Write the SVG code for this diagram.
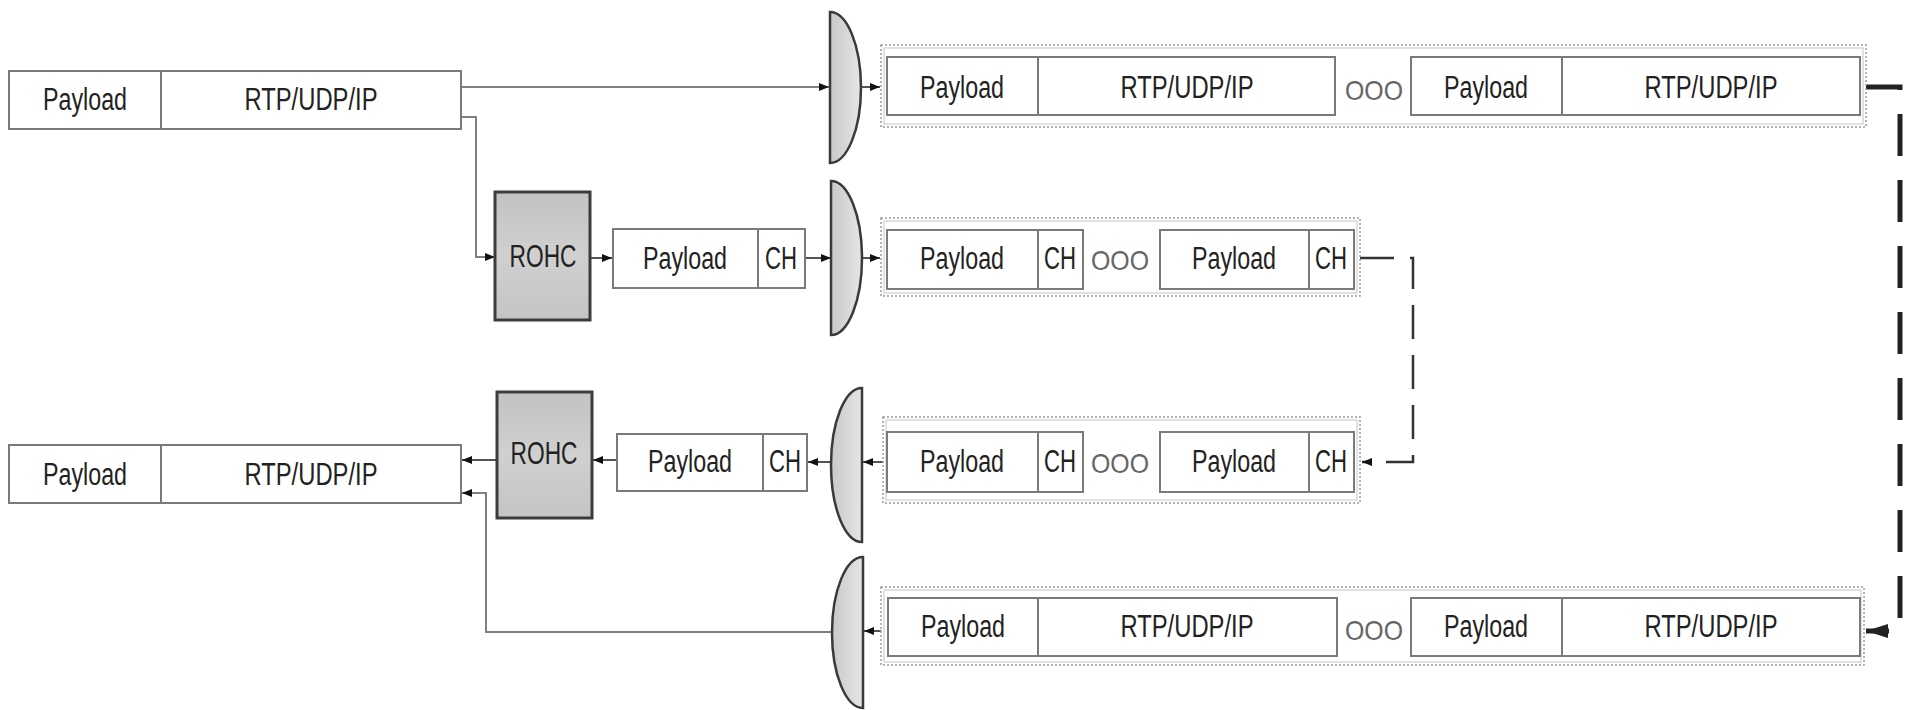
<svg xmlns="http://www.w3.org/2000/svg" width="1911" height="710" viewBox="0 0 1911 710">
<defs>
<style>
.t{font-family:"Liberation Sans Narrow","Liberation Sans",Arial,sans-serif;font-size:31px;fill:#222;text-anchor:middle}
.o{font-family:"Liberation Sans Narrow","Liberation Sans",Arial,sans-serif;font-size:28px;fill:#666;text-anchor:middle}
.r{font-family:"Liberation Sans Narrow","Liberation Sans",Arial,sans-serif;font-size:32px;fill:#222;text-anchor:middle}
.pk{fill:#fff;stroke:#7a7a7a;stroke-width:2}
.dv{stroke:#7a7a7a;stroke-width:2}
.co{fill:none;stroke:#9a9a9a;stroke-width:1.5;stroke-dasharray:2 2}
.ci{fill:none;stroke:#c4c4c4;stroke-width:1}
.rohc{fill:url(#gr);stroke:#3c3c3c;stroke-width:3}
.arc{fill:url(#ga);stroke:#3a3a3a;stroke-width:2.5}
.ln{fill:none;stroke:#808080;stroke-width:2}
.lnd{fill:none;stroke:#555;stroke-width:2}
</style>
<linearGradient id="gr" x1="0" y1="0" x2="0" y2="1">
<stop offset="0" stop-color="#c2c2c2"/><stop offset="0.5" stop-color="#d0d0d0"/><stop offset="1" stop-color="#c4c4c4"/>
</linearGradient>
<linearGradient id="ga" x1="0" y1="0" x2="1" y2="0">
<stop offset="0" stop-color="#c8c8c8"/><stop offset="1" stop-color="#e6e6e6"/>
</linearGradient>
<marker id="ah" markerUnits="userSpaceOnUse" markerWidth="10" markerHeight="8" refX="10" refY="4" orient="auto">
<path d="M0,0 L10,4 L0,8 z" fill="#111"/>
</marker>
<marker id="ahb" markerUnits="userSpaceOnUse" markerWidth="22" markerHeight="14" refX="22" refY="7" orient="auto">
<path d="M0,0 L22,7 L0,14 z" fill="#222"/>
</marker>
</defs>
<rect width="1911" height="710" fill="#fff"/>

<g id="connectors">
<path class="ln" d="M461,87 H829" marker-end="url(#ah)"/>
<path class="ln" d="M461,117 H476 V257 H495" marker-end="url(#ah)"/>
<path class="lnd" d="M590,258 H612" marker-end="url(#ah)"/>
<path class="lnd" d="M805,258 H831" marker-end="url(#ah)"/>
<path class="lnd" d="M861,87 H880" marker-end="url(#ah)"/>
<path class="lnd" d="M862,258 H880" marker-end="url(#ah)"/>
<path d="M1866,87 H1900 V631 H1866" fill="none" stroke="#222" stroke-width="5" stroke-dasharray="42 24" stroke-dashoffset="5" marker-end="url(#ahb)"/>
<path d="M1360,258 H1413 V462 H1362" fill="none" stroke="#333" stroke-width="2.5" stroke-dasharray="34 16" marker-end="url(#ah)"/>
<path class="lnd" d="M883,462 H863" marker-end="url(#ah)"/>
<path class="lnd" d="M830,462 H808" marker-end="url(#ah)"/>
<path class="lnd" d="M617,460 H593" marker-end="url(#ah)"/>
<path class="lnd" d="M497,460 H462" marker-end="url(#ah)"/>
<path class="lnd" d="M881,631 H864" marker-end="url(#ah)"/>
<path class="ln" d="M832,632 H486 V493 H462" marker-end="url(#ah)"/>
</g>

<g id="src-packet">
<rect class="pk" x="9" y="71" width="452" height="58"/>
<line class="dv" x1="161" y1="71" x2="161" y2="129"/>
<text class="t" x="85" y="110" textLength="84" lengthAdjust="spacingAndGlyphs">Payload</text>
<text class="t" x="311" y="110" textLength="133" lengthAdjust="spacingAndGlyphs">RTP/UDP/IP</text>
</g>

<g id="rohc-compressor">
<rect class="rohc" x="495" y="192" width="95" height="128"/>
<text class="r" x="543" y="267" textLength="67" lengthAdjust="spacingAndGlyphs">ROHC</text>
</g>

<g id="compressed-packet">
<rect class="pk" x="613" y="229" width="192" height="59"/>
<line class="dv" x1="758" y1="229" x2="758" y2="288"/>
<text class="t" x="685" y="269" textLength="84" lengthAdjust="spacingAndGlyphs">Payload</text>
<text class="t" x="781" y="269" textLength="32" lengthAdjust="spacingAndGlyphs">CH</text>
</g>

<g id="switch-1">
<path class="arc" d="M830,12 A31 75.5 0 0 1 830,163 Z"/>
</g>
<g id="switch-2">
<path class="arc" d="M831,181 A31 77 0 0 1 831,335 Z"/>
</g>
<g id="switch-3">
<path class="arc" d="M862,388 A31 77 0 0 0 862,542 Z"/>
</g>
<g id="switch-4">
<path class="arc" d="M863,557 A31 75.5 0 0 0 863,708 Z"/>
</g>

<g id="stream-uncompressed-tx">
<rect class="co" x="881" y="45" width="985" height="82"/>
<rect class="ci" x="884" y="48" width="979" height="76"/>
<rect class="pk" x="887" y="57" width="448" height="58"/>
<line class="dv" x1="1038" y1="57" x2="1038" y2="115"/>
<text class="t" x="962" y="98" textLength="84" lengthAdjust="spacingAndGlyphs">Payload</text>
<text class="t" x="1187" y="98" textLength="133" lengthAdjust="spacingAndGlyphs">RTP/UDP/IP</text>
<text class="o" x="1374" y="100" textLength="58" lengthAdjust="spacingAndGlyphs">OOO</text>
<rect class="pk" x="1411" y="57" width="449" height="58"/>
<line class="dv" x1="1562" y1="57" x2="1562" y2="115"/>
<text class="t" x="1486" y="98" textLength="84" lengthAdjust="spacingAndGlyphs">Payload</text>
<text class="t" x="1711" y="98" textLength="133" lengthAdjust="spacingAndGlyphs">RTP/UDP/IP</text>
</g>

<g id="stream-compressed-tx">
<rect class="co" x="881" y="218" width="479" height="78"/>
<rect class="ci" x="884" y="221" width="473" height="72"/>
<rect class="pk" x="887" y="230" width="196" height="59"/>
<line class="dv" x1="1038" y1="230" x2="1038" y2="289"/>
<text class="t" x="962" y="269" textLength="84" lengthAdjust="spacingAndGlyphs">Payload</text>
<text class="t" x="1060" y="269" textLength="32" lengthAdjust="spacingAndGlyphs">CH</text>
<text class="o" x="1120" y="270" textLength="58" lengthAdjust="spacingAndGlyphs">OOO</text>
<rect class="pk" x="1160" y="230" width="194" height="59"/>
<line class="dv" x1="1309" y1="230" x2="1309" y2="289"/>
<text class="t" x="1234" y="269" textLength="84" lengthAdjust="spacingAndGlyphs">Payload</text>
<text class="t" x="1331" y="269" textLength="32" lengthAdjust="spacingAndGlyphs">CH</text>
</g>

<g id="stream-compressed-rx">
<rect class="co" x="883" y="417" width="477" height="86"/>
<rect class="ci" x="886" y="420" width="471" height="80"/>
<rect class="pk" x="887" y="432" width="196" height="60"/>
<line class="dv" x1="1038" y1="432" x2="1038" y2="492"/>
<text class="t" x="962" y="472" textLength="84" lengthAdjust="spacingAndGlyphs">Payload</text>
<text class="t" x="1060" y="472" textLength="32" lengthAdjust="spacingAndGlyphs">CH</text>
<text class="o" x="1120" y="473" textLength="58" lengthAdjust="spacingAndGlyphs">OOO</text>
<rect class="pk" x="1160" y="432" width="194" height="60"/>
<line class="dv" x1="1309" y1="432" x2="1309" y2="492"/>
<text class="t" x="1234" y="472" textLength="84" lengthAdjust="spacingAndGlyphs">Payload</text>
<text class="t" x="1331" y="472" textLength="32" lengthAdjust="spacingAndGlyphs">CH</text>
</g>

<g id="stream-uncompressed-rx">
<rect class="co" x="881" y="587" width="983" height="78"/>
<rect class="ci" x="884" y="590" width="977" height="72"/>
<rect class="pk" x="888" y="598" width="449" height="58"/>
<line class="dv" x1="1038" y1="598" x2="1038" y2="656"/>
<text class="t" x="963" y="637" textLength="84" lengthAdjust="spacingAndGlyphs">Payload</text>
<text class="t" x="1187" y="637" textLength="133" lengthAdjust="spacingAndGlyphs">RTP/UDP/IP</text>
<text class="o" x="1374" y="640" textLength="58" lengthAdjust="spacingAndGlyphs">OOO</text>
<rect class="pk" x="1411" y="598" width="449" height="58"/>
<line class="dv" x1="1562" y1="598" x2="1562" y2="656"/>
<text class="t" x="1486" y="637" textLength="84" lengthAdjust="spacingAndGlyphs">Payload</text>
<text class="t" x="1711" y="637" textLength="133" lengthAdjust="spacingAndGlyphs">RTP/UDP/IP</text>
</g>

<g id="rx-compressed-packet">
<rect class="pk" x="617" y="434" width="190" height="57"/>
<line class="dv" x1="763" y1="434" x2="763" y2="491"/>
<text class="t" x="690" y="472" textLength="84" lengthAdjust="spacingAndGlyphs">Payload</text>
<text class="t" x="785" y="472" textLength="32" lengthAdjust="spacingAndGlyphs">CH</text>
</g>

<g id="rohc-decompressor">
<rect class="rohc" x="497" y="392" width="95" height="126"/>
<text class="r" x="544" y="464" textLength="67" lengthAdjust="spacingAndGlyphs">ROHC</text>
</g>

<g id="dst-packet">
<rect class="pk" x="9" y="445" width="452" height="58"/>
<line class="dv" x1="161" y1="445" x2="161" y2="503"/>
<text class="t" x="85" y="485" textLength="84" lengthAdjust="spacingAndGlyphs">Payload</text>
<text class="t" x="311" y="485" textLength="133" lengthAdjust="spacingAndGlyphs">RTP/UDP/IP</text>
</g>
</svg>
